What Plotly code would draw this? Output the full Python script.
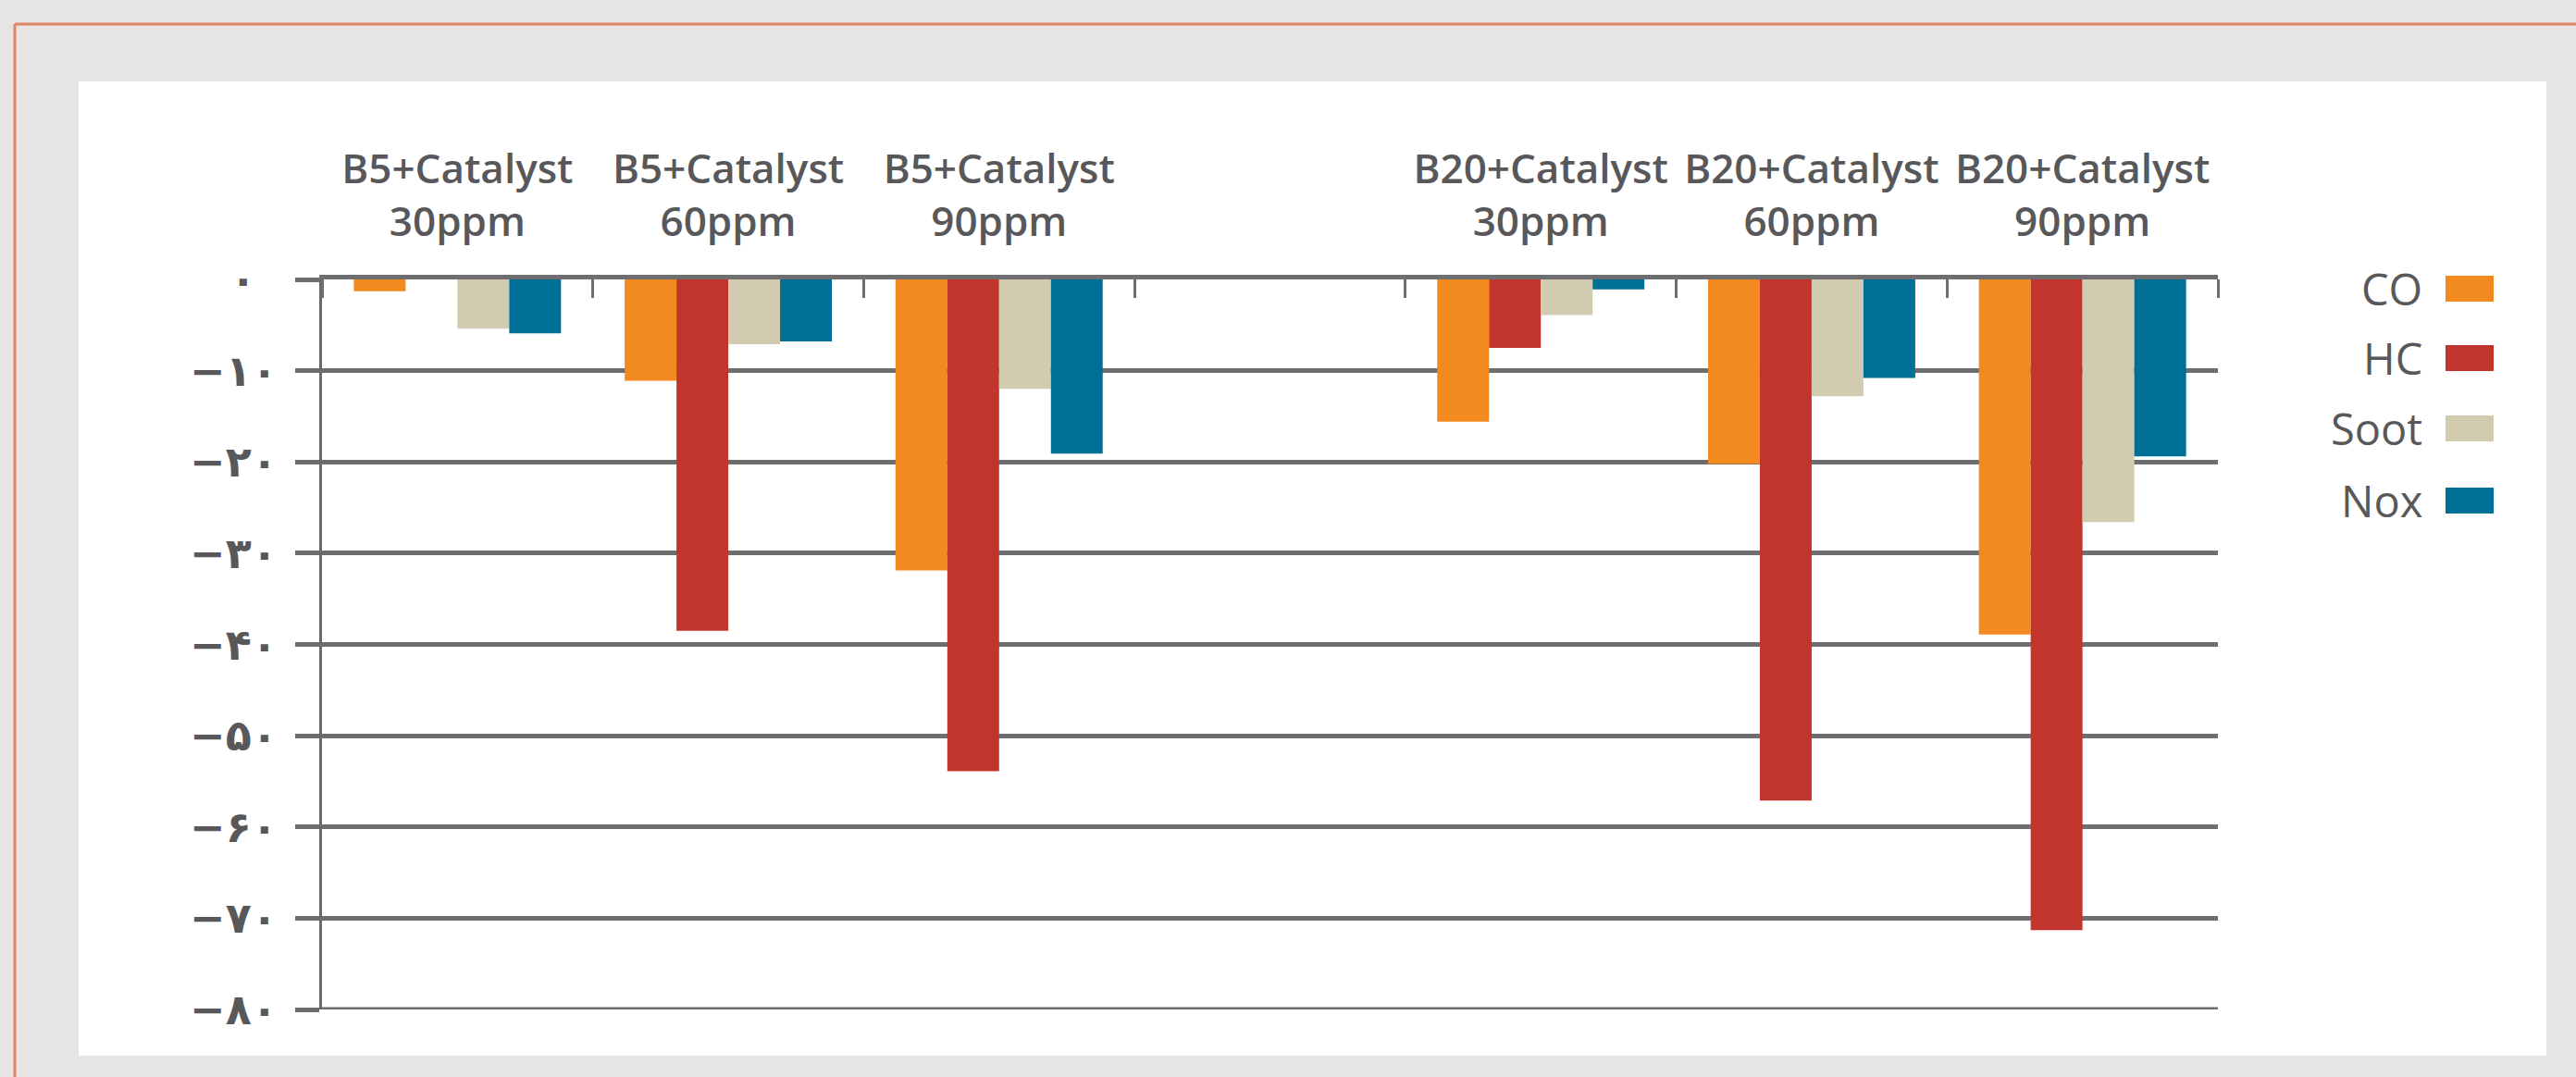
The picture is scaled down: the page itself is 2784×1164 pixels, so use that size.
import plotly.graph_objects as go

# ---------------- data ----------------
categories = ["B5+Catalyst<br>30ppm", "B5+Catalyst<br>60ppm", "B5+Catalyst<br>90ppm", "",
              "B20+Catalyst<br>30ppm", "B20+Catalyst<br>60ppm", "B20+Catalyst<br>90ppm"]
series_names = ["CO", "HC", "Soot", "Nox"]
co_values = [-1.3, -11.1, -31.9, None, -15.6, -20.2, -38.9]
hc_values = [0.0, -38.5, -53.9, None, -7.5, -57.1, -71.3]
soot_values = [-5.4, -7.1, -12.0, None, -3.9, -12.8, -26.6]
nox_values = [-5.9, -6.8, -19.1, None, -1.1, -10.8, -19.4]
y_tickvals = [0, -10, -20, -30, -40, -50, -60, -70, -80]
y_ticktext = ["۰\u2002", "−۱۰", "−۲۰", "−۳۰", "−۴۰", "−۵۰", "−۶۰", "−۷۰", "−۸۰"]
colors = ["#F28A1F", "#C1352C", "#D1CCAF", "#006F95"]

# ---------------- geometry (pixels) ----------------
W, H = 2784, 1164
PL, PR, PT, PB = 348, 2397, 302, 1091  # plot area


def px(x):
    return (x - PL) / (PR - PL)


def py(y):
    return (PB - y) / (PB - PT)


GRID = "#6e6e71"
TEXT = "#58585a"

fig = go.Figure()
xpos = list(range(len(categories)))
for name, vals, col in zip(series_names, [co_values, hc_values, soot_values, nox_values], colors):
    fig.add_trace(go.Bar(x=xpos, y=vals, name=name, marker=dict(color=col, line=dict(width=0)),
                         showlegend=False))

center_vals = [i for i, c in enumerate(categories) if c]
center_text = [c for c in categories if c]
boundaries = [i - 0.5 for i in range(len(categories) + 1)]

fig.update_layout(
    width=W, height=H,
    margin=dict(l=PL, r=W - PR, t=PT, b=H - PB, pad=0),
    paper_bgcolor="#E7E5E3",
    plot_bgcolor="#FFFFFF",
    barmode="group", bargap=0.235, bargroupgap=0,
    font=dict(family="Open Sans", color=TEXT),
    xaxis=dict(
        range=[-0.5, len(categories) - 0.5],
        side="top",
        tickmode="array", tickvals=center_vals, ticktext=center_text,
        ticks="outside", ticklen=24, tickcolor="rgba(0,0,0,0)",
        tickfont=dict(family="Open Sans", size=44, color=TEXT, weight=600),
        showgrid=False, zeroline=False,
        showline=True, linecolor=GRID, linewidth=5,
        minor=dict(tickmode="array", tickvals=boundaries, ticks="inside", ticklen=20,
                   tickwidth=2.5, tickcolor=GRID, showgrid=False),
        fixedrange=True,
    ),
    yaxis=dict(
        range=[-80, 0],
        tickmode="array", tickvals=y_tickvals, ticktext=y_ticktext,
        ticks="outside", ticklen=26, tickwidth=5, tickcolor=GRID,
        ticklabelstandoff=10,
        tickfont=dict(family="DejaVu Sans", size=46, color=TEXT, weight=600),
        showgrid=True, gridcolor=GRID, gridwidth=5,
        zeroline=False,
        showline=True, linecolor="#6a6a6c", linewidth=3,
        fixedrange=True,
    ),
)

shapes = []
# white panel
shapes.append(dict(type="rect", xref="paper", yref="paper", layer="below",
                   x0=px(85), x1=px(2752), y0=py(1141), y1=py(88),
                   fillcolor="#FFFFFF", line=dict(width=0)))
# orange frame (top and left edges)
shapes.append(dict(type="line", xref="paper", yref="paper", layer="below",
                   x0=px(16), x1=px(W + 10), y0=py(26), y1=py(26),
                   line=dict(color="#E08468", width=3)))
shapes.append(dict(type="line", xref="paper", yref="paper", layer="below",
                   x0=px(16), x1=px(16), y0=py(26), y1=py(H + 10),
                   line=dict(color="#E08468", width=3)))
# bottom gridline at the lower range edge (plotly skips grid at range edge)
shapes.append(dict(type="line", xref="paper", yref="y", layer="below",
                   x0=0, x1=1, y0=y_tickvals[-1], y1=y_tickvals[-1],
                   line=dict(color=GRID, width=5)))

# manual legend: label left of swatch
legend_rows = [312, 387, 463, 541]
annotations = []
for name, col, cy in zip(series_names, colors, legend_rows):
    shapes.append(dict(type="rect", xref="paper", yref="paper",
                       x0=px(2643), x1=px(2695), y0=py(cy + 14), y1=py(cy - 14),
                       fillcolor=col, line=dict(width=0)))
    annotations.append(dict(xref="paper", yref="paper", x=px(2620), y=py(cy),
                            xanchor="right", yanchor="middle", showarrow=False,
                            text=name, font=dict(family="Open Sans", size=47, color=TEXT)))

fig.update_layout(shapes=shapes, annotations=annotations)
fig.write_html("out.html")
